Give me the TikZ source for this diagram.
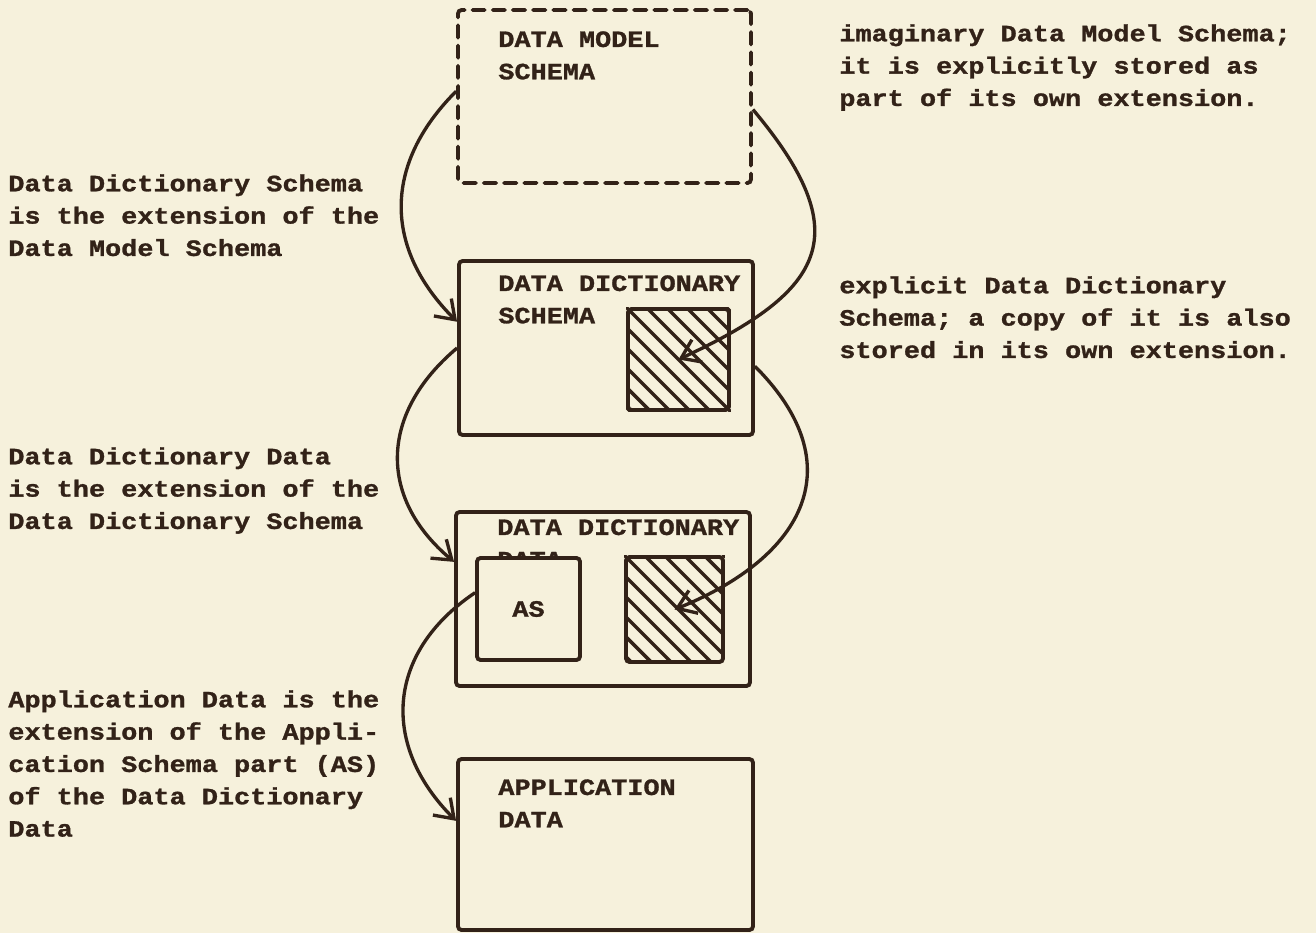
\documentclass[tikz,border=0pt]{standalone}
\usepackage{fontspec}
\setmainfont{Liberation Mono}[FakeStretch=1.15, BoldFeatures={FakeBold=1.2}]
\usetikzlibrary{arrows.meta, positioning}
\definecolor{paper}{RGB}{246,241,220}
\definecolor{ink}{RGB}{50,34,24}

\begin{document}
\begin{tikzpicture}[x=0.02cm, y=-0.02cm,
        box/.style={draw=ink, line width=2.2pt, rounded corners=2pt, fill=paper, inner sep=0pt},
        ghost/.style={box, dash pattern=on 7pt off 4.5pt, line cap=round},
        hatchbox/.style={box},
        title/.style={anchor=north west, inner sep=0pt, align=left, text=ink, font=\fontsize{13.3}{18.4}\selectfont\bfseries},
        note/.style={title},
        link/.style={draw=ink, line width=1.9pt, -{Straight Barb[length=10pt, width=14pt]}},
        hatch/.style={ink, line width=2pt}
    ]
        % Paper
        \fill[paper] (0,0) rectangle (1316,933);
        \useasboundingbox (0,0) rectangle (1316,933);

        % Data Model Schema
        \node[ghost, minimum width=5.86cm, minimum height=3.46cm] (dms) at (604.5,96.5) {};
        \node[title] (dmsT) at (498,31) {DATA MODEL\\SCHEMA};

        % Data Dictionary Schema
        \node[box, minimum width=5.88cm, minimum height=3.48cm] (dds) at (606,348) {};
        \node[title] (ddsT) at (498,275) {DATA DICTIONARY\\SCHEMA};
        \node[hatchbox, minimum width=2.02cm, minimum height=2.02cm] (hs) at (678.5,359.5) {};

        % Data Dictionary Data
        \node[box, minimum width=5.88cm, minimum height=3.48cm] (ddd) at (603,599) {};
        \node[title] (dddT) at (497,519) {DATA DICTIONARY\\DATA};
        \node[box, minimum width=2.06cm, minimum height=2.04cm, font=\fontsize{13.3}{18.4}\selectfont\bfseries, text=ink] (as) at (528.5,609) {AS};
        \node[hatchbox, minimum width=1.94cm, minimum height=2.1cm] (hd) at (674.5,609.5) {};

        % Application Data
        \node[box, minimum width=5.9cm, minimum height=3.42cm] (ad) at (605.5,844.5) {};
        \node[title] (adT) at (498,779) {APPLICATION\\DATA};

        % Hatching
        \foreach \h in {hs, hd} {
            \begin{scope}
                \clip (\h.south west) rectangle (\h.north east);
                \foreach \k in {-5,...,5}
                    \draw[hatch] ([xshift=\k*0.4cm]\h.north west) ++(-60,-60) -- ++(220,220);
            \end{scope}
        }

        % Notes
        \node[note] (n1) at (8,174) {Data Dictionary Schema\\is the extension of the\\Data Model Schema};
        \node[note] (n2) at (8,447) {Data Dictionary Data\\is the extension of the\\Data Dictionary Schema};
        \node[note] (n3) at (8,690) {Application Data is the\\extension of the Appli-\\cation Schema part (AS)\\of the Data Dictionary\\Data};
        \node[note] (n4) at (839,24) {imaginary Data Model Schema;\\it is explicitly stored as\\part of its own extension.};
        \node[note] (n5) at (839,276) {explicit Data Dictionary\\Schema; a copy of it is also\\stored in its own extension.};

        % Extension arrows
        \draw[link] (dms.178) to[out=225, in=135, looseness=1.15] (dds.170);
        \draw[link] (dms.-5) to[out=-50, in=25, looseness=1.6] (hs.center);
        \draw[link] (dds.west) to[out=220, in=140, looseness=1.2] (ddd.166);
        \draw[link] (dds.-7) to[out=-45, in=22, looseness=1.4] (hd.center);
        \draw[link] (as.163) to[out=214, in=135, looseness=1.2] (ad.171);
    \end{tikzpicture}
\end{document}
